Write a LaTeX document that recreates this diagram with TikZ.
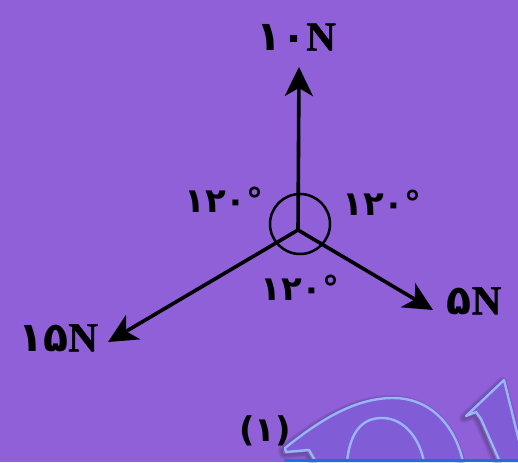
\documentclass[tikz,border=0pt]{standalone}
\usepackage{fontspec}
\newfontfamily\fa[Script=Arabic]{DejaVu Sans Bold}
\newfontfamily\latb{Liberation Serif Bold}[FakeBold=1.2]
\usetikzlibrary{arrows.meta}
\definecolor{bgpurple}{RGB}{143,96,216}
\definecolor{letterfill}{RGB}{128,92,214}
\definecolor{outline}{RGB}{152,182,245}
\definecolor{bluebar}{RGB}{30,110,226}
\definecolor{shade}{RGB}{72,40,135}
\tikzset{
  force/.style={line width=3.6pt,-{Stealth[length=29pt,width=28pt,inset=8pt]}},
  flabel/.style={inner sep=0pt,font=\fontsize{41}{41}\selectfont},
  alabel/.style={inner sep=0pt,font=\fa\fontsize{34}{34}\selectfont},
  wmshadow/.style={shade,opacity=0.08,line join=round},
  wmline/.style={line width=2.4pt,outline,line join=round}
}
\begin{document}
\begin{tikzpicture}[x=1pt,y=-1pt]
\useasboundingbox (0,0) rectangle (518,462);
\fill[bgpurple] (0,0) rectangle (518,462);
% watermark
\begin{scope}
\clip (0,0) rectangle (518,462);
\def\Douter{(316,462) -- (309,450) -- (286,452) -- (285,448)
  .. controls (320,420) and (355,398) .. (393,398)
  .. controls (430,398) and (455,425) .. (463,462)}
\def\Dinner{(424,462) .. controls (420,440) and (405,418) .. (382,418)
  .. controls (362,418) and (350,432) .. (347,462)}
\def\Rshape{(500,462) -- (481,419) -- (476,412) -- (466,416) -- (504,380) -- (520,445)}
\foreach \w in {10,7,4}{
  \draw[wmshadow,line width=\w pt,xshift=-2pt,yshift=-2pt] \Douter;
  \draw[wmshadow,line width=\w pt,xshift=-2pt,yshift=-2pt] \Rshape;
}
\fill[letterfill] (316,462) -- (309,450) -- (286,452) -- (285,448)
  .. controls (320,420) and (355,398) .. (393,398)
  .. controls (430,398) and (455,425) .. (463,462) -- cycle;
\fill[letterfill] \Rshape -- (520,462) -- cycle;
\draw[wmline] \Douter;
\draw[wmline] \Dinner;
\draw[wmline] \Rshape;
\fill[bluebar] (284,459) rectangle (518,462);
\end{scope}
% forces
\coordinate (O) at (298,230);
\coordinate (F1) at (299,67);
\coordinate (F2) at (433,310);
\coordinate (F3) at (108,342);
\coordinate (C) at (300,224);
\draw[line width=2.5pt] (C) circle[radius=30];
\draw[force] (O) -- (F1);
\draw[force] (O) -- (F2);
\draw[force] (O) -- (F3);
% labels
\node[flabel] (L1) at (296,37) {{\fa ۱۰}\latb N};
\node[flabel] (L2) at (474,301) {{\fa ۵}\latb N};
\node[flabel] (L3) at (58,338) {{\fa ۱۵}\latb N};
\node[alabel] (A1) at (224,200) {۱۲۰°};
\node[alabel] (A2) at (382,203) {۱۲۰°};
\node[alabel] (A3) at (300,288) {۱۲۰°};
\node[alabel] (P) at (265,431) {(۱)};
\end{tikzpicture}
\end{document}
